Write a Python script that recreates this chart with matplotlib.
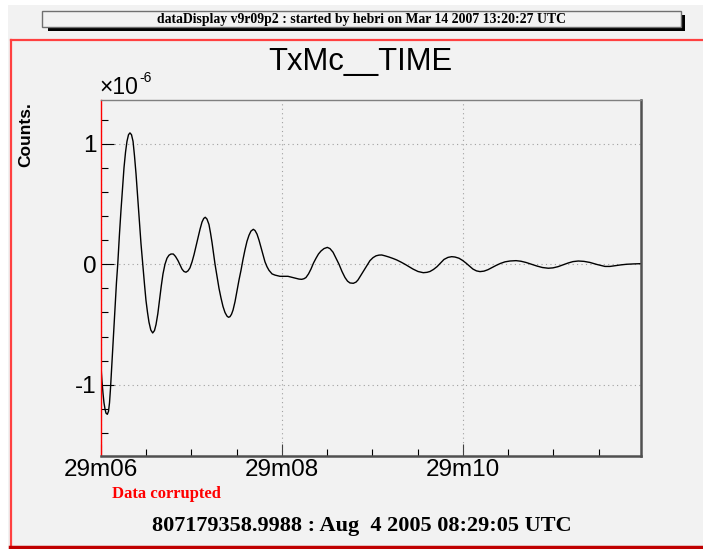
import numpy as np
import matplotlib.pyplot as plt
from matplotlib.patches import Rectangle
from matplotlib.ticker import MultipleLocator, FuncFormatter

# seconds after 08:29:00 UTC, and counts in units of 1e-6
t_sec = [6.000, 6.011, 6.022, 6.033, 6.044, 6.055, 6.070, 6.083, 6.094, 6.105,
         6.122, 6.138, 6.155, 6.171, 6.185, 6.204, 6.221, 6.238, 6.254, 6.271,
         6.287, 6.304, 6.320, 6.337, 6.354, 6.370, 6.387, 6.403, 6.425, 6.442,
         6.461, 6.481, 6.497, 6.514, 6.530, 6.550, 6.571, 6.591, 6.608, 6.628,
         6.646, 6.666, 6.685, 6.707, 6.729, 6.751, 6.773, 6.799, 6.823, 6.851,
         6.873, 6.895, 6.917, 6.939, 6.961, 6.983, 7.006, 7.028, 7.050, 7.072,
         7.094, 7.116, 7.135, 7.152, 7.171, 7.193, 7.210, 7.227, 7.243, 7.260,
         7.282, 7.304, 7.326, 7.348, 7.370, 7.392, 7.409, 7.425, 7.442, 7.459,
         7.481, 7.503, 7.525, 7.547, 7.569, 7.591, 7.613, 7.635, 7.657, 7.683,
         7.702, 7.724, 7.746, 7.768, 7.790, 7.812, 7.834, 7.856, 7.890, 7.923,
         7.978, 8.066, 8.144, 8.188, 8.218, 8.243, 8.265, 8.293, 8.320, 8.348,
         8.376, 8.403, 8.431, 8.464, 8.501, 8.530, 8.564, 8.597, 8.630, 8.663,
         8.696, 8.724, 8.751, 8.788, 8.818, 8.840, 8.873, 8.906, 8.939, 8.972,
         9.006, 9.039, 9.072, 9.102, 9.138, 9.182, 9.227, 9.267, 9.315, 9.359,
         9.403, 9.448, 9.503, 9.561, 9.602, 9.635, 9.674, 9.713, 9.751, 9.790,
         9.834, 9.875, 9.912, 9.956, 9.995, 10.033, 10.072, 10.110, 10.149, 10.188,
         10.232, 10.276, 10.320, 10.365, 10.414, 10.464, 10.519, 10.586, 10.641, 10.696,
         10.757, 10.818, 10.878, 10.943, 10.994, 11.050, 11.105, 11.160, 11.215, 11.274,
         11.337, 11.403, 11.481, 11.569, 11.624, 11.680, 11.746, 11.809, 11.889, 11.967]
counts_e6 = [-0.85, -0.97, -1.07, -1.15, -1.20, -1.235, -1.245, -1.22, -1.15, -1.03,
             -0.80, -0.57, -0.35, -0.15, 0.00, 0.25, 0.45, 0.63, 0.80, 0.93,
             1.02, 1.075, 1.09, 1.075, 1.02, 0.90, 0.75, 0.58, 0.35, 0.17,
             0.00, -0.17, -0.30, -0.40, -0.48, -0.545, -0.57, -0.55, -0.50, -0.41,
             -0.30, -0.18, -0.08, 0.00, 0.05, 0.075, 0.085, 0.085, 0.065, 0.03,
             -0.005, -0.04, -0.06, -0.066, -0.055, -0.03, 0.02, 0.08, 0.15, 0.22,
             0.29, 0.35, 0.38, 0.39, 0.375, 0.33, 0.26, 0.18, 0.09, 0.00,
             -0.10, -0.20, -0.28, -0.35, -0.40, -0.43, -0.44, -0.435, -0.415, -0.38,
             -0.31, -0.22, -0.13, -0.05, 0.04, 0.12, 0.19, 0.24, 0.275, 0.29,
             0.28, 0.25, 0.20, 0.14, 0.08, 0.02, -0.02, -0.05, -0.08, -0.09,
             -0.10, -0.10, -0.115, -0.123, -0.125, -0.12, -0.11, -0.08, -0.04, 0.01,
             0.05, 0.085, 0.11, 0.13, 0.14, 0.13, 0.10, 0.05, 0.00, -0.06,
             -0.11, -0.14, -0.155, -0.158, -0.148, -0.13, -0.09, -0.05, -0.01, 0.03,
             0.055, 0.07, 0.076, 0.077, 0.07, 0.06, 0.048, 0.036, 0.018, 0.00,
             -0.02, -0.04, -0.06, -0.07, -0.067, -0.06, -0.043, -0.02, 0.01, 0.04,
             0.057, 0.063, 0.06, 0.05, 0.032, 0.01, -0.015, -0.04, -0.055, -0.061,
             -0.057, -0.045, -0.028, -0.01, 0.007, 0.02, 0.027, 0.03, 0.025, 0.015,
             0.00, -0.015, -0.027, -0.033, -0.03, -0.02, -0.005, 0.01, 0.022, 0.027,
             0.024, 0.015, -0.002, -0.018, -0.018, -0.012, -0.005, 0.00, 0.003, 0.005]

title = "TxMc__TIME"
header = "dataDisplay v9r09p2 : started by hebri on Mar 14 2007 13:20:27 UTC"
footer = "807179358.9988 : Aug  4 2005 08:29:05 UTC"
W, H = 703, 549

plt.rcParams['font.family'] = ['Liberation Sans', 'DejaVu Sans']
fig = plt.figure(figsize=(W / 100, H / 100), dpi=100, facecolor='white')

def px(x, y, w, h, **kw):
    # rectangle given in picture pixels (y from the top)
    fig.patches.append(Rectangle((x / W, 1 - (y + h) / H), w / W, h / H,
                                 transform=fig.transFigure, **kw))

px(8, 5, W - 8, H - 5, facecolor='#f2f2f2', edgecolor='none', zorder=-10)
# header box with shadow
px(48, 27, 637, 3.5, facecolor='black', edgecolor='none', zorder=1)
px(681, 15, 3.5, 15.5, facecolor='black', edgecolor='none', zorder=1)
px(42, 11, 639, 16, facecolor='#f2f2f2', edgecolor='#707070', lw=1, zorder=2)
fig.text(361.5 / W, 1 - 19.5 / H, header, ha='center', va='center',
         family='Liberation Serif', fontweight='bold', fontsize=9.9, zorder=3)
# red frame
fig.add_artist(plt.Line2D([10.5 / W, 1], [1 - 39.5 / H] * 2, color='#ff4040', lw=1.6))
fig.add_artist(plt.Line2D([10.5 / W] * 2, [1 - 39.5 / H, 1 - 547 / H], color='#ff4040', lw=1.6))
fig.add_artist(plt.Line2D([10 / W, 1], [1 - 547 / H] * 2, color='#c00000', lw=2.5))

ax = fig.add_axes([101 / W, 1 - 456 / H, 540 / W, 356 / H])
ax.set_facecolor('#f2f2f2')
ax.plot(t_sec, counts_e6, color='black', lw=1.0)
ax.set_xlim(6.0, 11.967)
ax.set_ylim(-1.591, 1.363)

ax.xaxis.set_major_locator(MultipleLocator(2))
ax.xaxis.set_minor_locator(MultipleLocator(0.5))
ax.xaxis.set_major_formatter(FuncFormatter(lambda v, p: "29m%02d" % round(v)))
ax.yaxis.set_major_locator(MultipleLocator(1))
ax.yaxis.set_minor_locator(MultipleLocator(0.2))
ax.yaxis.set_major_formatter(FuncFormatter(lambda v, p: "%d" % round(v)))
ax.tick_params(which='both', direction='in', top=False, right=False, labelsize=17.5)
ax.tick_params(which='major', length=9, width=0.8)
ax.tick_params(which='minor', length=5, width=0.8)
ax.tick_params(axis='x', pad=2.5, colors='#404040', labelcolor='black')
ax.tick_params(axis='y', pad=3)
ax.grid(True, which='major', color='#a0a0a0', lw=0.8, ls=(0, (1, 3)))

ax.spines['left'].set_color('red')
ax.spines['left'].set_linewidth(1)
ax.spines['top'].set_color('#808080')
ax.spines['top'].set_linewidth(1)
for s in ('right', 'bottom'):
    ax.spines[s].set_color('#505050')
    ax.spines[s].set_linewidth(1.8)

fig.text(360 / W, 1 - 70 / H, title, ha='center', va='baseline', fontsize=22.3)
fig.text(99 / W, 1 - 94 / H, "\u00d710", ha='left', va='baseline', fontsize=16.5)
fig.text(139 / W, 1 - 82 / H, "-6", ha='left', va='baseline', fontsize=10)
fig.text(26 / W, 1 - 135 / H, "Counts.", rotation=90, ha='center', va='center',
         fontsize=12.5, fontweight='bold')
fig.text(112 / W, 1 - 494 / H, "Data corrupted", ha='left', va='center', color='red',
         family='Liberation Serif', fontweight='bold', fontsize=12)
fig.text(362 / W, 1 - 526 / H, footer, ha='center', va='center',
         family='Liberation Serif', fontweight='bold', fontsize=16)

fig.savefig('out.png', dpi=100)
